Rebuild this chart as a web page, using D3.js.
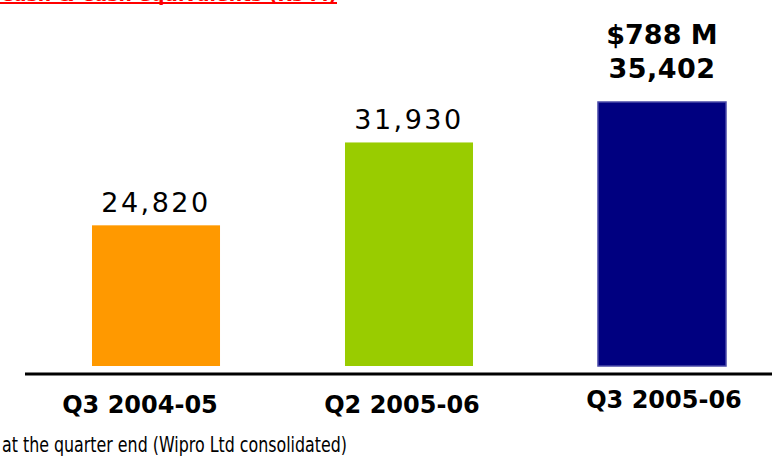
<!DOCTYPE html>
<html>
<head>
<meta charset="utf-8">
<script src="https://cdn.jsdelivr.net/npm/d3@7"></script>
<style>
  html, body { margin: 0; padding: 0; background: #fff; }
  svg { display: block; font-family: "DejaVu Sans", Verdana, sans-serif; }
</style>
</head>
<body>
<svg id="chart"></svg>
<script>
// dati del grafico
const quarters = ["Q3 2004-05", "Q2 2005-06", "Q3 2005-06"];
const cashValues = [24820, 31930, 35402];
const usdLabels = ["", "", "$788 M"];
const barColors = ["#FF9900", "#99CC00", "#000080"];
const titleText = "Cash & Cash equivalents (Rs M)";
const footnote = "at the quarter end (Wipro Ltd consolidated)";

const width = 772;
const height = 463;
const baseY = 366;

const svg = d3.select("#chart")
    .attr("width", width)
    .attr("height", height);

// scale: le barre partono da una base non nulla, come nell'originale
const x = d3.scaleBand()
    .domain(quarters)
    .range([92, 726])
    .paddingInner(0.494)
    .paddingOuter(0);

const xLabel = d3.scalePoint()
    .domain(quarters)
    .range([140, 664]);

const y = d3.scaleLinear()
    .domain([12750, 35402])
    .range([baseY, 102]);

// titolo tagliato in alto (come nel riferimento)
svg.append("text")
    .attr("x", 0)
    .attr("y", 1)
    .attr("fill", "#FF0000")
    .attr("font-weight", "bold")
    .attr("font-size", 18)
    .attr("textLength", 337)
    .attr("lengthAdjust", "spacingAndGlyphs")
    .text(titleText);

svg.append("line")
    .attr("x1", 0).attr("x2", 337)
    .attr("y1", 3).attr("y2", 3)
    .attr("stroke", "#FF0000")
    .attr("stroke-width", 2);

// barre
svg.selectAll("rect.bar")
    .data(quarters)
    .join("rect")
    .attr("class", "bar")
    .attr("x", d => x(d))
    .attr("y", (d, i) => y(cashValues[i]))
    .attr("width", x.bandwidth())
    .attr("height", (d, i) => baseY - y(cashValues[i]))
    .attr("fill", (d, i) => barColors[i])
    .attr("stroke", (d, i) => i === 2 ? "#4a4aa8" : "none")
    .attr("stroke-width", 1.5);

// etichette dei valori
const fmt = d3.format(",");
svg.selectAll("text.val")
    .data(quarters)
    .join("text")
    .attr("class", "val")
    .attr("x", d => x(d) + x.bandwidth() / 2)
    .attr("y", (d, i) => y(cashValues[i]) - (usdLabels[i] ? 24 : 13))
    .attr("text-anchor", "middle")
    .attr("font-size", (d, i) => usdLabels[i] ? 27 : 27)
    .attr("font-weight", (d, i) => usdLabels[i] ? "bold" : "normal")
    .attr("letter-spacing", (d, i) => usdLabels[i] ? 0.5 : 2.5)
    .attr("fill", "#000")
    .text((d, i) => fmt(cashValues[i]));

svg.selectAll("text.usd")
    .data(quarters.filter((d, i) => usdLabels[i]))
    .join("text")
    .attr("class", "usd")
    .attr("x", d => x(d) + x.bandwidth() / 2)
    .attr("y", d => y(cashValues[quarters.indexOf(d)]) - 58)
    .attr("text-anchor", "middle")
    .attr("font-size", 27)
    .attr("font-weight", "bold")
    .attr("fill", "#000")
    .text(d => usdLabels[quarters.indexOf(d)]);

// linea di base
svg.append("line")
    .attr("x1", 25).attr("x2", width)
    .attr("y1", 374).attr("y2", 374)
    .attr("stroke", "#000")
    .attr("stroke-width", 3);

// etichette delle categorie
svg.selectAll("text.cat")
    .data(quarters)
    .join("text")
    .attr("class", "cat")
    .attr("x", d => xLabel(d))
    .attr("y", (d, i) => i === 2 ? 408 : 413)
    .attr("text-anchor", "middle")
    .attr("font-size", 24)
    .attr("font-weight", "bold")
    .attr("fill", "#000")
    .text(d => d);

// nota in basso
svg.append("text")
    .attr("x", 2)
    .attr("y", 452)
    .attr("font-size", 21)
    .attr("textLength", 345)
    .attr("lengthAdjust", "spacingAndGlyphs")
    .attr("fill", "#000")
    .text(footnote);
</script>
</body>
</html>
